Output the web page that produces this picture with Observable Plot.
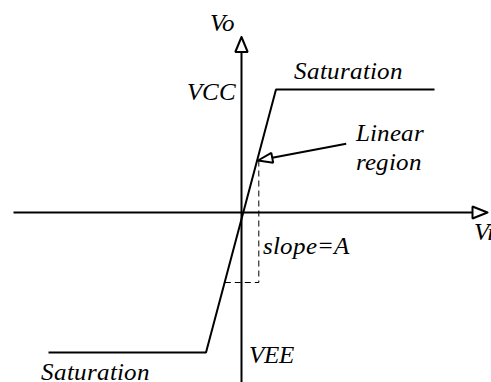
<!DOCTYPE html>
<html>
<head>
<meta charset="utf-8">
<script src="https://cdn.jsdelivr.net/npm/d3@7"></script>
<script src="https://cdn.jsdelivr.net/npm/@observablehq/plot@0.6"></script>
<style>
  @font-face { font-family: "ChartSerif"; font-style: italic; src: local("Liberation Serif Italic"), local("LiberationSerif-Italic"), local("Times New Roman Italic"); }
  html, body { margin: 0; padding: 0; background: #fff; font-family: "Liberation Serif", serif; }
  #chart svg { display: block; }
  #chart svg text { font-family: "ChartSerif", "Liberation Serif", "Times New Roman", serif; font-style: italic; }
</style>
</head>
<body>
<div id="chart"></div>
<script>
// Transfer characteristic (units: arbitrary, origin at the axis crossing)
const curveVi = [-19.3, -3.55, 3.45, 19.3];
const curveVo = [-14.0, -14.0, 12.3, 12.3];

// arrows: tail (x1,y1) -> tip (x2,y2), head length and half-width
const arrowX1 = [-22.8, 0, 10.47];
const arrowY1 = [0, -17.2, 6.87];
const arrowX2 = [24.6, 0, 1.65];
const arrowY2 = [0, 17.55, 5.2];
const headLen = [1.5, 1.5, 1.45];
const headHalf = [0.6, 0.62, 0.5];

// dashed slope guide
const slopeX = [1.73, 1.73, -1.8];
const slopeY = [5.2, -7.0, -7.0];

// labels
const labelText = ["Vo", "VCC", "Saturation", "Linear", "region", "slope=A", "VEE", "Saturation", "Vi"];
const labelX = [-3.2, -0.6, 5.2, 11.4, 11.4, 2.1, 0.7, -20.1, 23.2];
const labelY = [18.2, 11.3, 13.4, 7.2, 4.3, -4.15, -15.0, -16.75, -2.7];
const labelAnchor = ["start", "end", "start", "start", "start", "start", "start", "start", "start"];

const curve = curveVi.map((x, i) => ({x, y: curveVo[i]}));
const shafts = [], heads = [];
arrowX1.forEach((x1, i) => {
  const y1 = arrowY1[i], x2 = arrowX2[i], y2 = arrowY2[i];
  const dx = x2 - x1, dy = y2 - y1, L = Math.hypot(dx, dy);
  const ux = dx / L, uy = dy / L, px = -uy, py = ux;
  const bx = x2 - ux * headLen[i], by = y2 - uy * headLen[i];
  shafts.push({k: i, x: x1, y: y1}, {k: i, x: bx, y: by});
  const h = headHalf[i];
  heads.push(
    {k: i, x: x2, y: y2},
    {k: i, x: bx + px * h, y: by + py * h},
    {k: i, x: bx - px * h, y: by - py * h},
    {k: i, x: x2, y: y2}
  );
});
const slope = slopeX.map((x, i) => ({x, y: slopeY[i]}));
const labels = labelText.map((t, i) => ({t, x: labelX[i], y: labelY[i], a: labelAnchor[i]}));

const serif = "Liberation Serif, Times New Roman, Times, serif";
const textOpts = {x: "x", y: "y", text: "t", fontFamily: serif, fontStyle: "italic", fontSize: 25, fill: "black", lineAnchor: "bottom"};

const chart = Plot.plot({
  width: 491,
  height: 382,
  margin: 0,
  x: {domain: [-24.1, 25.0], axis: null},
  y: {domain: [-17.0, 21.2], axis: null},
  style: {fontFamily: serif, fontStyle: "italic", background: "white"},
  marks: [
    Plot.line(shafts, {x: "x", y: "y", z: "k", stroke: "black", strokeWidth: 2, strokeLinecap: "butt"}),
    Plot.line(slope, {x: "x", y: "y", stroke: "black", strokeWidth: 1, strokeDasharray: "6,4", strokeLinecap: "butt"}),
    Plot.line(curve, {x: "x", y: "y", stroke: "black", strokeWidth: 2, strokeLinejoin: "miter", strokeLinecap: "butt"}),
    Plot.line(heads, {x: "x", y: "y", z: "k", stroke: "black", fill: "white", strokeWidth: 2, strokeLinejoin: "miter"}),
    Plot.text(labels.filter(d => d.a === "start"), {...textOpts, textAnchor: "start"}),
    Plot.text(labels.filter(d => d.a === "end"), {...textOpts, textAnchor: "end"})
  ]
});
document.getElementById("chart").appendChild(chart);
</script>
</body>
</html>
